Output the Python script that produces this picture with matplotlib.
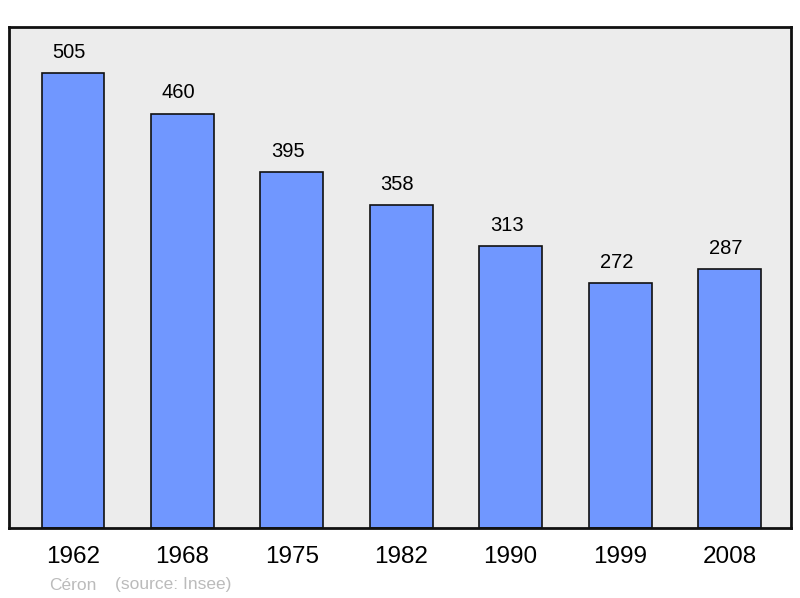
import matplotlib.pyplot as plt

# data
years = ["1962", "1968", "1975", "1982", "1990", "1999", "2008"]
population = [505, 460, 395, 358, 313, 272, 287]

plt.rcParams['font.family'] = ['Liberation Sans', 'DejaVu Sans']

fig = plt.figure(figsize=(8, 5.98), dpi=100)
ax = fig.add_axes([9/800, 1 - 528/598, 782/800, 501/598])
ax.set_facecolor('#ececec')

x = list(range(len(years)))
ax.bar(x, population, width=0.575, color='#7097ff', edgecolor='#111111', linewidth=1.2, zorder=2)

for xi, v in zip(x, population):
    ax.annotate(str(v), (xi, v), xytext=(-2.7, 8), textcoords='offset points',
                ha='center', va='bottom', fontsize=14.5)

ax.set_xlim(-0.585, 6.562)
ax.set_ylim(0, 556)
ax.set_yticks([])
ax.set_xticks(x)
ax.set_xticklabels(years, fontsize=17.5)
ax.tick_params(axis='x', length=0, pad=13)
for s in ax.spines.values():
    s.set_linewidth(2)
    s.set_color('#111111')

fig.text(49/800, 1 - 585/598, "Céron", color='#bbbbbb', fontsize=12.5, va='center')
fig.text(115/800, 1 - 585/598, "(source: Insee)", color='#bbbbbb', fontsize=12.5, va='center')

fig.savefig('out.png', dpi=100)
